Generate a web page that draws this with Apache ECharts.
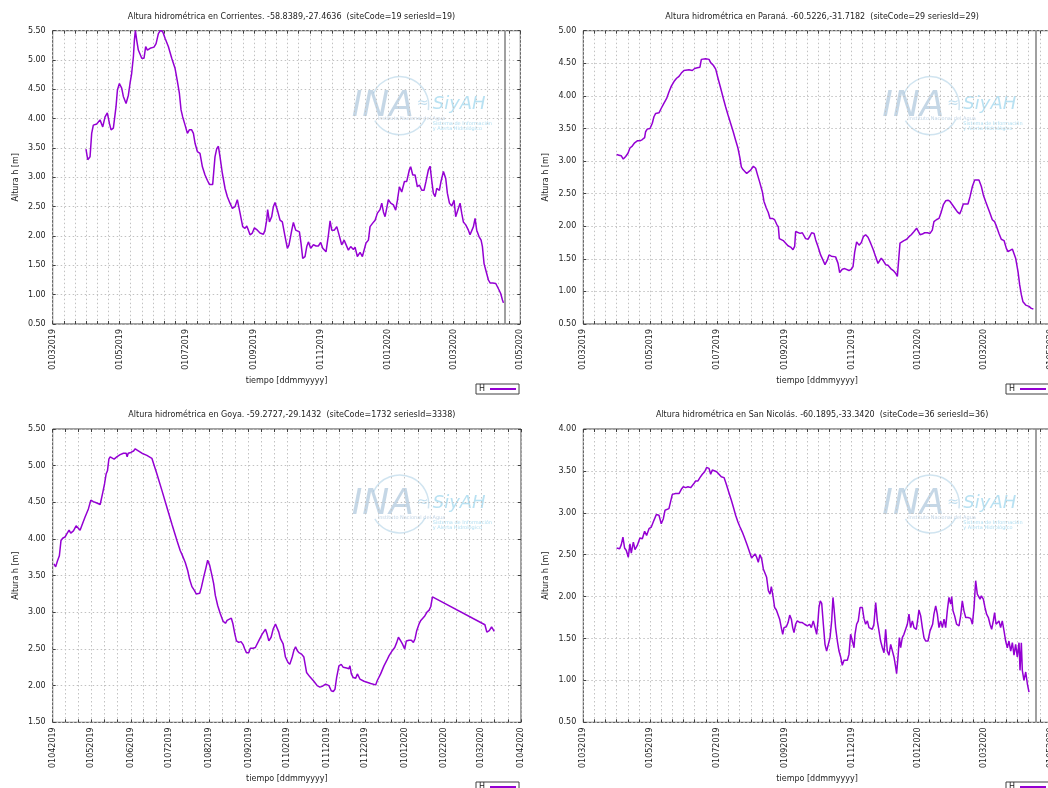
<!DOCTYPE html>
<html>
<head>
<meta charset="UTF-8">
<title>Altura hidrométrica</title>
<script src="https://cdn.jsdelivr.net/npm/echarts@6/dist/echarts.min.js"></script>
<style>
  html, body { margin: 0; padding: 0; background: #fff; }
  #chart { width: 1048px; height: 788px; }
</style>
</head>
<body>
<div id="chart"></div>
<script>
var FONT = 'DejaVu Sans';
var DAY = 86400000;

// etiquetas del eje x (ddmmyyyy)
var ticksBimonthly = ['2019-03-01', '2019-05-01', '2019-07-01', '2019-09-01', '2019-11-01', '2020-01-01', '2020-03-01', '2020-05-01'];
var ticksMonthly = ['2019-04-01', '2019-05-01', '2019-06-01', '2019-07-01', '2019-08-01', '2019-09-01', '2019-10-01', '2019-11-01', '2019-12-01', '2020-01-01', '2020-02-01', '2020-03-01', '2020-04-01'];
var nowDate = '2020-04-17';

// Corrientes: [dias desde inicio, altura m]
var corrientesStart = '2019-03-01';
var corrientesH = [[30.4,3.48],[32.0,3.30],[34.1,3.35],[35.6,3.75],[37.1,3.89],[38.7,3.88],[40.2,3.91],[43.2,3.98],[45.7,3.86],[47.8,4.03],[49.9,4.10],[51.8,3.92],[53.3,3.81],[55.4,3.84],[57.8,4.20],[59.1,4.49],[60.9,4.60],[63.0,4.52],[64.5,4.38],[67.0,4.26],[69.1,4.40],[70.6,4.60],[72.1,4.77],[73.7,5.06],[74.6,5.34],[75.5,5.50],[76.7,5.34],[78.2,5.17],[79.8,5.14],[81.3,5.03],[83.4,5.03],[84.9,5.23],[86.5,5.17],[88.9,5.20],[92.5,5.22],[94.4,5.28],[96.5,5.45],[98.6,5.51],[100.5,5.48],[102.6,5.37],[105.6,5.23],[108.7,5.03],[111.7,4.86],[113.9,4.63],[115.7,4.43],[117.2,4.15],[118.7,4.03],[120.9,3.89],[123.0,3.75],[124.8,3.81],[126.9,3.81],[128.5,3.75],[130.0,3.58],[132.1,3.44],[134.5,3.41],[136.7,3.18],[139.1,3.04],[141.2,2.95],[143.1,2.88],[146.1,2.88],[148.2,3.35],[149.8,3.49],[151.3,3.53],[152.8,3.35],[154.9,3.07],[157.4,2.81],[159.5,2.67],[161.9,2.56],[164.1,2.47],[166.5,2.50],[168.6,2.62],[169.9,2.61],[171.1,2.39],[173.5,2.16],[175.6,2.13],[177.2,2.17],[178.7,2.10],[180.2,2.02],[182.3,2.05],[184.2,2.14],[186.3,2.11],[189.3,2.05],[192.4,2.03],[193.9,2.10],[195.4,2.27],[196.3,2.45],[197.9,2.24],[200.0,2.33],[201.5,2.50],[203.0,2.57],[205.2,2.44],[207.6,2.27],[209.7,2.24],[212.2,1.99],[214.3,1.79],[215.8,1.85],[218.3,2.10],[219.8,2.23],[221.9,2.10],[223.7,2.11],[225.3,2.07],[226.8,1.87],[228.3,1.62],[230.4,1.65],[232.0,1.82],[233.5,1.90],[235.6,1.79],[238.1,1.85],[240.5,1.83],[242.6,1.83],[244.7,1.89],[246.6,1.79],[249.6,1.73],[251.8,2.02],[253.3,2.26],[254.8,2.10],[257.2,2.10],[259.4,2.16],[261.5,2.02],[263.9,1.85],[266.1,1.93],[267.9,1.94],[270.0,1.76],[272.1,1.82],[274.6,1.77],[276.1,1.81],[278.2,1.65],[280.7,1.72],[282.8,1.65],[284.3,1.65],[286.1,1.88],[288.3,1.93],[289.8,2.16],[292.2,2.22],[294.4,2.27],[296.5,2.39],[298.9,2.45],[300.5,2.56],[302.0,2.41],[303.5,2.33],[305.0,2.47],[306.5,2.62],[308.7,2.56],[311.1,2.53],[313.2,2.44],[314.8,2.61],[316.6,2.84],[318.7,2.75],[321.2,2.93],[323.3,2.93],[325.7,3.13],[326.9,3.18],[328.8,3.04],[330.9,3.04],[333.0,2.84],[334.9,2.87],[337.0,2.78],[339.1,2.78],[340.9,2.93],[343.1,3.13],[344.6,3.19],[346.1,2.95],[347.6,2.73],[349.2,2.67],[350.7,2.81],[353.1,2.78],[354.6,2.93],[356.8,3.10],[358.9,2.98],[360.4,2.73],[362.3,2.56],[364.4,2.51],[366.5,2.61],[368.0,2.33],[369.9,2.44],[372.0,2.56],[373.5,2.39],[375.0,2.24],[377.2,2.19],[379.6,2.10],[381.1,2.02],[382.6,2.05],[384.2,2.16],[385.7,2.30],[387.2,2.10],[389.3,1.99],[391.2,1.93],[392.4,1.82],[393.9,1.53],[396.3,1.36],[397.9,1.25],[399.4,1.20],[401.8,1.20],[403.0,1.23],[404.6,1.19],[406.4,1.20],[407.6,1.08],[409.1,1.02],[410.7,0.91],[411.6,0.86]];

// Paraná
var paranaStart = '2019-03-01';
var paranaH = [[30.4,3.10],[32.6,3.09],[34.7,3.08],[36.5,3.03],[38.7,3.07],[40.8,3.12],[42.6,3.20],[44.7,3.23],[46.9,3.28],[49.3,3.31],[51.7,3.31],[53.9,3.33],[56.0,3.36],[56.9,3.45],[58.4,3.49],[60.9,3.50],[63.0,3.58],[64.5,3.68],[66.1,3.73],[69.1,3.74],[71.2,3.81],[73.7,3.89],[76.1,3.96],[78.2,4.06],[80.4,4.15],[82.8,4.22],[85.2,4.27],[87.4,4.30],[89.5,4.35],[91.9,4.39],[93.5,4.41],[96.5,4.40],[99.5,4.39],[101.7,4.42],[104.1,4.43],[106.5,4.44],[107.8,4.56],[108.7,4.58],[111.7,4.57],[114.8,4.56],[116.3,4.51],[118.7,4.47],[120.9,4.41],[123.0,4.27],[125.4,4.12],[127.9,3.96],[130.0,3.83],[132.1,3.71],[134.5,3.58],[136.9,3.45],[139.1,3.32],[141.2,3.20],[143.1,3.04],[144.3,2.91],[145.8,2.87],[147.6,2.89],[149.2,2.81],[150.7,2.79],[152.8,2.86],[155.3,2.92],[157.4,2.89],[158.9,2.80],[161.0,2.68],[163.5,2.53],[165.0,2.38],[167.1,2.28],[168.9,2.21],[170.5,2.12],[172.6,2.12],[174.7,2.10],[176.6,2.03],[178.1,1.99],[179.0,1.81],[180.8,1.79],[182.6,1.78],[184.8,1.74],[186.9,1.70],[189.3,1.68],[191.5,1.64],[193.0,1.69],[193.9,1.92],[195.4,1.89],[197.9,1.89],[200.0,1.90],[201.5,1.89],[203.0,1.81],[205.2,1.80],[207.0,1.85],[208.5,1.90],[210.7,1.89],[212.2,1.79],[214.3,1.69],[216.7,1.56],[218.9,1.48],[220.7,1.41],[222.8,1.48],[224.4,1.56],[226.5,1.54],[228.3,1.54],[230.4,1.53],[231.4,1.56],[232.6,1.43],[234.1,1.29],[236.5,1.34],[238.7,1.35],[240.5,1.34],[242.6,1.32],[244.7,1.34],[246.3,1.38],[247.8,1.60],[249.6,1.76],[251.8,1.71],[253.9,1.75],[255.7,1.84],[257.8,1.87],[260.0,1.83],[262.4,1.74],[264.8,1.64],[267.0,1.53],[269.1,1.43],[270.9,1.46],[272.1,1.51],[274.0,1.47],[276.1,1.41],[278.2,1.40],[280.7,1.35],[283.1,1.32],[285.2,1.28],[286.8,1.23],[288.3,1.20],[289.2,1.74],[290.7,1.71],[292.8,1.78],[295.3,1.80],[297.4,1.84],[299.5,1.87],[302.0,1.92],[304.4,1.97],[305.9,1.94],[307.5,1.87],[309.6,1.88],[311.7,1.90],[314.2,1.90],[316.6,1.89],[318.7,1.94],[320.2,2.07],[322.4,2.10],[324.8,2.12],[326.9,2.22],[328.8,2.33],[330.9,2.39],[333.0,2.40],[334.9,2.38],[337.0,2.33],[339.1,2.28],[341.6,2.22],[343.7,2.19],[345.2,2.25],[347.0,2.34],[349.2,2.34],[351.3,2.34],[353.1,2.45],[355.3,2.61],[357.4,2.71],[359.2,2.74],[361.3,2.71],[363.5,2.61],[365.3,2.48],[367.4,2.38],[369.6,2.28],[371.4,2.20],[373.5,2.10],[375.6,2.07],[377.5,1.99],[379.6,1.89],[381.7,1.80],[384.2,1.78],[386.3,1.66],[387.8,1.61],[389.6,1.63],[391.8,1.65],[393.3,1.63],[394.8,1.51],[397.0,1.30],[398.5,1.10],[400.0,0.95],[401.5,0.84],[404.0,0.79],[407.0,0.77],[409.1,0.74],[411.0,0.73]];

// Goya
var goyaStart = '2019-04-01';
var goyaH = [[1.0,3.66],[2.3,3.62],[3.7,3.70],[5.2,3.77],[6.5,3.98],[7.8,4.01],[9.7,4.03],[11.0,4.07],[12.8,4.12],[14.1,4.08],[16.2,4.11],[18.3,4.18],[19.6,4.20],[21.4,4.12],[22.7,4.18],[25.3,4.30],[27.9,4.41],[29.8,4.53],[31.8,4.51],[34.5,4.49],[37.1,4.47],[39.2,4.64],[40.5,4.75],[41.8,4.89],[42.8,4.93],[43.9,5.09],[44.9,5.12],[46.2,5.10],[48.0,5.09],[50.1,5.12],[52.7,5.15],[55.3,5.17],[57.4,5.17],[58.2,5.12],[59.0,5.17],[61.1,5.18],[63.2,5.20],[64.5,5.23],[66.3,5.21],[69.7,5.17],[73.6,5.14],[77.5,5.10],[81.4,4.89],[85.4,4.66],[89.3,4.43],[93.2,4.20],[97.1,3.98],[99.7,3.84],[101.0,3.79],[103.6,3.68],[105.5,3.57],[107.0,3.45],[108.8,3.35],[110.7,3.30],[112.2,3.25],[113.3,3.23],[114.9,3.26],[116.2,3.34],[118.0,3.48],[119.8,3.61],[121.1,3.71],[122.7,3.64],[124.5,3.50],[125.8,3.39],[127.1,3.23],[129.0,3.09],[131.0,2.98],[133.1,2.88],[135.0,2.85],[136.3,2.89],[137.6,2.91],[139.6,2.92],[140.9,2.84],[142.3,2.71],[143.6,2.61],[145.4,2.59],[147.2,2.60],[148.8,2.56],[150.1,2.50],[151.4,2.45],[153.2,2.45],[154.5,2.51],[156.6,2.51],[158.4,2.52],[161.0,2.61],[163.6,2.70],[166.3,2.77],[167.6,2.70],[168.9,2.61],[170.7,2.66],[172.3,2.77],[174.1,2.84],[175.4,2.82],[176.7,2.73],[178.0,2.64],[180.1,2.57],[181.9,2.39],[183.8,2.32],[185.3,2.29],[187.2,2.39],[188.5,2.48],[189.8,2.53],[191.1,2.48],[192.4,2.45],[194.5,2.43],[196.3,2.39],[198.4,2.18],[201.0,2.12],[204.1,2.06],[206.7,2.00],[208.8,1.98],[210.6,1.99],[212.0,1.98],[213.3,2.02],[214.6,2.03],[215.9,2.00],[217.7,1.93],[219.3,1.92],[220.6,1.95],[221.9,2.11],[223.7,2.27],[225.5,2.29],[227.1,2.25],[229.7,2.24],[231.5,2.23],[232.3,2.27],[233.4,2.16],[234.9,2.11],[236.8,2.10],[238.1,2.16],[239.4,2.18],[240.1,2.09],[243.3,2.06],[248.5,2.03],[252.4,2.01],[253.7,2.07],[256.3,2.16],[258.9,2.27],[261.0,2.34],[262.9,2.41],[265.5,2.48],[267.3,2.52],[268.9,2.59],[270.2,2.66],[272.0,2.61],[273.3,2.57],[275.1,2.50],[276.4,2.61],[278.5,2.62],[280.3,2.62],[281.9,2.59],[283.2,2.64],[284.5,2.75],[286.3,2.84],[287.7,2.89],[289.0,2.91],[290.8,2.95],[292.4,3.00],[294.2,3.03],[295.5,3.08],[296.8,3.21],[337.8,2.83],[339.3,2.73],[341.2,2.75],[343.0,2.80],[343.8,2.82],[345.1,2.74]];

// San Nicolás
var sanNicolasStart = '2019-03-01';
var sanNicolasDays = [30.4,32.0,33.2,34.7,36.2,37.7,39.3,41.1,42.6,43.8,45.7,47.2,49.3,51.7,53.9,56.0,57.8,60.0,62.1,64.5,66.7,69.1,71.2,73.1,74.6,76.1,78.2,79.8,81.3,84.3,87.4,89.5,91.3,93.5,95.6,98.0,100.5,102.6,104.7,106.5,108.7,110.8,112.6,114.8,116.3,117.8,119.3,121.8,123.9,126.0,128.5,130.6,133.0,135.2,137.0,139.1,141.2,143.1,145.2,147.3,149.8,151.9,153.7,155.3,156.8,158.3,159.8,161.3,162.9,164.4,165.9,167.4,169.0,170.5,171.7,173.2,174.7,176.3,177.8,179.3,180.8,182.1,183.3,185.4,187.0,188.5,190.0,191.2,192.4,193.9,195.4,197.9,200.0,202.1,204.6,206.7,208.2,210.0,211.6,213.1,214.3,215.2,216.4,217.7,219.2,220.7,222.2,223.7,225.3,226.8,228.0,228.9,230.4,232.0,233.5,235.0,236.5,238.1,239.6,241.1,242.6,244.1,245.7,247.2,248.1,249.6,251.1,252.7,254.8,256.3,257.8,259.4,260.9,263.9,265.4,267.0,268.5,270.0,271.5,273.1,274.6,276.1,277.6,279.1,280.7,282.2,283.7,285.2,286.1,287.4,288.6,289.8,291.3,292.8,294.4,295.9,297.4,298.9,300.5,302.0,304.1,305.6,306.5,308.1,309.6,311.1,312.6,314.8,316.6,317.8,319.0,320.2,321.8,323.3,324.8,326.3,327.9,329.4,330.9,332.4,333.9,335.5,336.4,337.6,339.1,340.9,343.1,344.6,346.1,347.6,349.2,351.3,353.7,355.3,356.8,358.3,359.8,361.3,362.3,363.5,365.3,366.8,368.3,369.9,371.4,372.9,374.4,375.6,376.9,378.1,379.6,381.1,382.6,384.2,385.7,387.2,388.7,390.3,391.8,393.3,394.8,396.3,397.9,398.8,400.0,400.9,402.4,404.0,405.5,407.0];
var sanNicolasH = [2.58,2.60,2.57,2.62,2.71,2.58,2.55,2.47,2.63,2.52,2.65,2.56,2.61,2.70,2.69,2.78,2.73,2.81,2.83,2.91,2.98,2.97,2.87,2.93,3.03,3.05,3.05,3.07,3.22,3.23,3.23,3.28,3.31,3.30,3.31,3.30,3.34,3.38,3.38,3.42,3.46,3.49,3.54,3.53,3.46,3.51,3.52,3.49,3.46,3.43,3.42,3.34,3.24,3.15,3.07,2.97,2.89,2.83,2.77,2.70,2.61,2.53,2.46,2.48,2.51,2.47,2.41,2.50,2.45,2.33,2.32,2.23,2.07,2.03,2.12,2.01,1.87,1.84,1.83,1.73,1.63,1.55,1.63,1.64,1.69,1.78,1.73,1.63,1.57,1.67,1.71,1.69,1.69,1.67,1.65,1.67,1.63,1.71,1.63,1.55,1.71,1.87,1.95,1.92,1.67,1.43,1.35,1.37,1.51,1.71,1.99,1.87,1.63,1.47,1.35,1.28,1.18,1.24,1.26,1.24,1.31,1.55,1.47,1.39,1.55,1.67,1.71,1.87,1.87,1.74,1.67,1.71,1.63,1.61,1.67,1.93,1.71,1.59,1.47,1.39,1.33,1.61,1.35,1.30,1.43,1.45,1.28,1.16,1.08,1.28,1.51,1.39,1.51,1.55,1.57,1.67,1.79,1.63,1.71,1.63,1.61,1.75,1.84,1.77,1.63,1.51,1.47,1.47,1.59,1.63,1.67,1.79,1.89,1.79,1.63,1.71,1.63,1.73,1.63,1.83,1.99,1.91,2.00,1.83,1.77,1.67,1.65,1.77,1.95,1.83,1.75,1.75,1.74,1.67,1.87,2.19,2.03,2.05,1.97,2.01,1.97,1.87,1.79,1.75,1.67,1.61,1.71,1.81,1.67,1.65,1.71,1.63,1.71,1.59,1.47,1.39,1.47,1.35,1.45,1.30,1.43,1.28,1.45,1.12,1.45,1.12,1.00,1.10,0.96,0.86];

function ts(s) { return new Date(s + 'T00:00:00Z').getTime(); }
function pad(n) { return (n < 10 ? '0' : '') + n; }
function ddmmyyyy(v) {
    var d = new Date(v);
    return pad(d.getUTCDate()) + pad(d.getUTCMonth() + 1) + d.getUTCFullYear();
}
// tics mayores + menores (mxtics) como en gnuplot
function gridTicks(ticks, sub) {
    var out = [];
    for (var i = 0; i < ticks.length; i++) {
        var a = ts(ticks[i]);
        out.push(a);
        if (i < ticks.length - 1) {
            var b = ts(ticks[i + 1]);
            for (var k = 1; k < sub; k++) out.push(a + (b - a) * k / sub);
        }
    }
    return out;
}
function toSeries(start, pairs) {
    var base = ts(start);
    return pairs.map(function (p) { return [base + p[0] * DAY, p[1]]; });
}

var panels = [
    { title: 'Altura hidrométrica en Corrientes. -58.8389,-27.4636  (siteCode=19 seriesId=19)',
      data: toSeries(corrientesStart, corrientesH), ticks: ticksBimonthly, sub: 6, ymin: 0.5, ymax: 5.5,
      left: 52.7, top: 30.7, width: 467.6, legend: [476, 384], now: true },
    { title: 'Altura hidrométrica en Paraná. -60.5226,-31.7182  (siteCode=29 seriesId=29)',
      data: toSeries(paranaStart, paranaH), ticks: ticksBimonthly, sub: 6, ymin: 0.5, ymax: 5.0,
      left: 583.3, top: 30.7, width: 467.6, legend: [1006, 384], now: true },
    { title: 'Altura hidrométrica en Goya. -59.2727,-29.1432  (siteCode=1732 seriesId=3338)',
      data: toSeries(goyaStart, goyaH), ticks: ticksMonthly, sub: 3, ymin: 1.5, ymax: 5.5,
      left: 52.7, top: 429, width: 468.3, legend: [476, 782], now: false },
    { title: 'Altura hidrométrica en San Nicolás. -60.1895,-33.3420  (siteCode=36 seriesId=36)',
      data: toSeries(sanNicolasStart, sanNicolasDays.map(function (d, i) { return [d, sanNicolasH[i]]; })),
      ticks: ticksBimonthly, sub: 6, ymin: 0.5, ymax: 4.0,
      left: 583.3, top: 429, width: 467.6, legend: [1006, 782], now: true }
];

var TXT = '#222';
var BORDER = '#404040';
var GRIDC = '#c2c2c2';
var LINE = '#9400d3';

var option = {
    animation: false,
    backgroundColor: '#fff',
    textStyle: { fontFamily: FONT },
    title: [], legend: [], grid: [], xAxis: [], yAxis: [], series: [], graphic: []
};

panels.forEach(function (p, i) {
    var majors = p.ticks.map(ts);
    var all = gridTicks(p.ticks, p.sub);
    var xmin = majors[0], xmax = majors[majors.length - 1];
    var h = 293.3;

    option.grid.push({ left: p.left, top: p.top, width: p.width, height: h,
        outerBoundsMode: 'none', containLabel: false,
        show: true, borderColor: BORDER, borderWidth: 1, backgroundColor: 'transparent' });

    option.title.push({ text: p.title, left: p.left + p.width / 2, top: p.top - 23, textAlign: 'center',
        textStyle: { fontSize: 8, fontWeight: 'normal', color: TXT, fontFamily: FONT } });

    // eje de tiempo como valor (ms) con tics propios
    option.xAxis.push({
        type: 'value', gridIndex: i, min: xmin, max: xmax, scale: true,
        name: 'tiempo [ddmmyyyy]', nameLocation: 'middle', nameGap: 53,
        nameTextStyle: { fontSize: 8, color: TXT, fontFamily: FONT },
        axisLine: { show: false },
        axisTick: { show: true, inside: true, length: 3, customValues: all, lineStyle: { color: BORDER } },
        axisLabel: { customValues: majors, rotate: 90, margin: 5, fontSize: 8, color: TXT, fontFamily: FONT,
            formatter: ddmmyyyy },
        splitLine: { show: true, lineStyle: { color: GRIDC, width: 1, type: [1.5, 2.5] } }
    });
    option.xAxis.push({
        type: 'value', gridIndex: i, position: 'top', min: xmin, max: xmax, scale: true,
        axisLine: { show: false },
        axisTick: { show: true, inside: true, length: 3, customValues: all, lineStyle: { color: BORDER } },
        axisLabel: { show: false }, splitLine: { show: false }
    });

    option.yAxis.push({
        type: 'value', gridIndex: i, min: p.ymin, max: p.ymax, interval: 0.5,
        name: 'Altura h [m]', nameLocation: 'middle', nameGap: 33,
        nameTextStyle: { fontSize: 8, color: TXT, fontFamily: FONT },
        axisLine: { show: false },
        axisTick: { show: true, inside: true, length: 3, lineStyle: { color: BORDER } },
        axisLabel: { margin: 7, fontSize: 8, color: TXT, fontFamily: FONT,
            formatter: function (v) { return v.toFixed(2); } },
        splitLine: { show: true, lineStyle: { color: GRIDC, width: 1, type: [1.5, 2.5] } }
    });
    option.yAxis.push({
        type: 'value', gridIndex: i, position: 'right', min: p.ymin, max: p.ymax, interval: 0.5,
        axisLine: { show: false },
        axisTick: { show: true, inside: true, length: 3, lineStyle: { color: BORDER } },
        axisLabel: { show: false }, splitLine: { show: false }
    });

    var s = {
        type: 'line', name: 'H', xAxisIndex: 2 * i, yAxisIndex: 2 * i,
        data: p.data, showSymbol: false, symbol: 'none',
        lineStyle: { color: LINE, width: 1.5 }, itemStyle: { color: LINE },
        z: 3
    };
    if (p.now) {
        s.markLine = {
            silent: true, symbol: ['none', 'none'], label: { show: false },
            lineStyle: { color: '#808080', width: 1.5, type: 'solid' },
            data: [{ xAxis: ts(nowDate) }]
        };
    }
    option.series.push(s);

    option.legend.push({
        data: ['H'], left: p.legend[0], top: p.legend[1], align: 'right', icon: 'rect',
        itemWidth: 26, itemHeight: 2, padding: [1, 3, 1, 3], selectedMode: false,
        borderColor: BORDER, borderWidth: 1, borderRadius: 0,
        textStyle: { fontSize: 8, color: TXT, fontFamily: FONT }
    });

    // marca de agua INA / SiyAH
    option.graphic.push({
        type: 'group', x: p.left + 300, y: p.top + 58, silent: true, z: -1,
        children: [
            { type: 'arc', shape: { cx: 47, cy: 17, r: 29, startAngle: -2.7, endAngle: 0.15 },
              style: { stroke: 'rgba(170,205,228,0.55)', lineWidth: 1.5, fill: null } },
            { type: 'arc', shape: { cx: 47, cy: 17, r: 29, startAngle: 0.5, endAngle: 2.6 },
              style: { stroke: 'rgba(170,205,228,0.55)', lineWidth: 1.5, fill: null } },
            { type: 'text', x: -1, y: 0,
              style: { text: 'INA', font: 'italic 36px "DejaVu Sans"', fill: 'rgba(150,182,210,0.55)' } },
            { type: 'text', x: 64, y: 8,
              style: { text: '≈', font: '14px "DejaVu Sans"', fill: 'rgba(140,195,225,0.55)' } },
            { type: 'text', x: 80, y: 7,
              style: { text: 'SiyAH', font: 'italic 18px "DejaVu Sans"', fill: 'rgba(125,200,232,0.55)' } },
            { type: 'text', x: 25, y: 28,
              style: { text: 'Instituto Nacional del Agua', font: '5px "DejaVu Sans"', fill: 'rgba(150,182,210,0.6)' } },
            { type: 'text', x: 80, y: 33,
              style: { text: 'Sistema de Información', font: '5px "DejaVu Sans"', fill: 'rgba(125,200,232,0.6)' } },
            { type: 'text', x: 80, y: 38,
              style: { text: 'y Alerta Hidrológico', font: '5px "DejaVu Sans"', fill: 'rgba(125,200,232,0.6)' } }
        ]
    });
});

var myChart = echarts.init(document.getElementById('chart'), null, { renderer: 'canvas' });
myChart.setOption(option);
</script>
</body>
</html>
